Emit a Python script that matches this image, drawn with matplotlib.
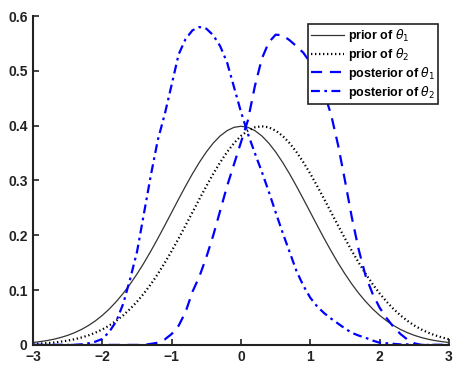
import numpy as np
import matplotlib
matplotlib.use("Agg")
import matplotlib.pyplot as plt

plt.rcParams['font.family'] = ['Liberation Sans', 'DejaVu Sans']
plt.rcParams['mathtext.fontset'] = 'dejavusans'

# ---- data (grid x = -3 .. 3, step 0.1) ----
x_vals = [round(-3 + 0.1 * i, 1) for i in range(61)]

prior_theta1 = [
    0.0044, 0.0060, 0.0079, 0.0104, 0.0136, 0.0175, 0.0224, 0.0283, 0.0355, 0.0440,
    0.0540, 0.0656, 0.0790, 0.0940, 0.1109, 0.1295, 0.1497, 0.1714, 0.1942, 0.2179,
    0.2420, 0.2661, 0.2897, 0.3123, 0.3332, 0.3521, 0.3683, 0.3814, 0.3910, 0.3970,
    0.3989,
    0.3970, 0.3910, 0.3814, 0.3683, 0.3521, 0.3332, 0.3123, 0.2897, 0.2661, 0.2420,
    0.2179, 0.1942, 0.1714, 0.1497, 0.1295, 0.1109, 0.0940, 0.0790, 0.0656, 0.0540,
    0.0440, 0.0355, 0.0283, 0.0224, 0.0175, 0.0136, 0.0104, 0.0079, 0.0060, 0.0044,
]

prior_theta2 = [
    0.0017, 0.0024, 0.0033, 0.0044, 0.0060, 0.0079, 0.0104, 0.0136, 0.0175, 0.0224,
    0.0283, 0.0355, 0.0440, 0.0540, 0.0656, 0.0790, 0.0940, 0.1109, 0.1295, 0.1497,
    0.1714, 0.1942, 0.2179, 0.2420, 0.2661, 0.2897, 0.3123, 0.3332, 0.3521, 0.3683,
    0.3814, 0.3910, 0.3970, 0.3989, 0.3970, 0.3910, 0.3814, 0.3683, 0.3521, 0.3332,
    0.3123, 0.2897, 0.2661, 0.2420, 0.2179, 0.1942, 0.1714, 0.1497, 0.1295, 0.1109,
    0.0940, 0.0790, 0.0656, 0.0540, 0.0440, 0.0355, 0.0283, 0.0224, 0.0175, 0.0136,
    0.0104,
]

post_theta1 = [
    0, 0, 0, 0, 0, 0, 0, 0, 0, 0,
    0, 0, 0, 0, 0, 0.000, 0.000, 0.002, 0.004, 0.010,
    0.020, 0.035, 0.060, 0.097, 0.125, 0.160, 0.200, 0.245, 0.290, 0.330,
    0.370,
    0.410, 0.472, 0.522, 0.552, 0.566, 0.565, 0.556, 0.545, 0.533, 0.515,
    0.490, 0.460, 0.420, 0.365, 0.300, 0.232, 0.173, 0.125, 0.093, 0.068,
    0.049, 0.033, 0.020, 0.010, 0.003, 0, 0, 0, 0, 0,
]

post_theta2 = [
    0, 0, 0, 0, 0, 0, 0.000, 0.001, 0.003, 0.006,
    0.011, 0.024, 0.043, 0.075, 0.120, 0.170, 0.240, 0.310, 0.374, 0.421,
    0.475, 0.530, 0.558, 0.574, 0.580, 0.577, 0.565, 0.545, 0.515, 0.470,
    0.425,
    0.385, 0.350, 0.316, 0.280, 0.242, 0.205, 0.170, 0.135, 0.108, 0.086,
    0.070, 0.058, 0.048, 0.039, 0.030, 0.022, 0.017, 0.013, 0.008, 0.004,
    0.003, 0.002, 0.001, 0.001, 0.000, 0, 0, 0, 0, 0,
]

x_ticks = [-3, -2, -1, 0, 1, 2, 3]
y_ticks = [0, 0.1, 0.2, 0.3, 0.4, 0.5, 0.6]
y_tick_labels = ['0', '0.1', '0.2', '0.3', '0.4', '0.5', '0.6']

# ---- figure ----
fig = plt.figure(figsize=(4.53, 3.65), dpi=100)
ax = fig.add_axes([0.073, 0.055, 0.918, 0.901])

ax.plot(x_vals, prior_theta1, color='#333333', lw=0.9, label=r'prior of $\theta_1$')
ax.plot(x_vals, prior_theta2, color='black', lw=1.6, linestyle=(0, (0.6, 1.2)),
        label=r'prior of $\theta_2$')
ax.plot(x_vals, post_theta1, color='#0000ff', lw=1.6, linestyle=(0, (5, 3.5)),
        label=r'posterior of $\theta_1$')
ax.plot(x_vals, post_theta2, color='#0000ff', lw=1.6, linestyle=(0, (4, 2, 1.2, 2)),
        label=r'posterior of $\theta_2$')

ax.set_xlim(-3, 3)
ax.set_ylim(0, 0.6)
ax.set_xticks(x_ticks)
ax.set_yticks(y_ticks)
ax.set_yticklabels(y_tick_labels)

for side in ['top', 'right']:
    ax.spines[side].set_visible(False)
for side in ['left', 'bottom']:
    ax.spines[side].set_linewidth(1.5)
    ax.spines[side].set_color('#222222')

ax.tick_params(direction='in', length=4, width=1.2, colors='#222222', labelsize=10)
ax.tick_params(axis='x', pad=3.5)
ax.tick_params(axis='y', pad=4)
for lab in ax.get_xticklabels() + ax.get_yticklabels():
    lab.set_fontweight('bold')

leg = ax.legend(loc='upper right', bbox_to_anchor=(0.974, 0.976), borderaxespad=0,
                fancybox=False, framealpha=1, edgecolor='#222222', handlelength=2.6,
                handletextpad=0.3, labelspacing=0.15, borderpad=0.25,
                prop={'weight': 'bold', 'size': 9})
leg.get_frame().set_linewidth(1.2)

fig.savefig('out.png', dpi=100)
